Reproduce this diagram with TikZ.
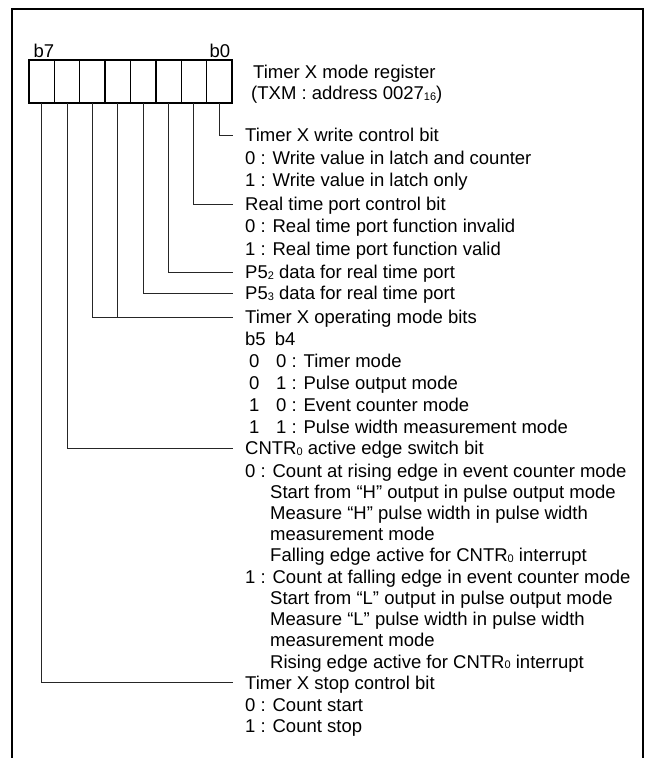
\documentclass[tikz,border=0pt]{standalone}
\usepackage{fontspec}
\setmainfont{Liberation Sans}
\newcommand\lowsub[1]{\raisebox{-0.6pt}{\fontsize{11}{11}\selectfont #1}}
\begin{document}
\begin{tikzpicture}[x=1pt,y=-1pt,
  txt/.style={anchor=base west,inner sep=0pt,font=\fontsize{18.5}{22}\selectfont},
  bitlbl/.style={anchor=base,inner sep=0pt,font=\fontsize{18.5}{22}\selectfont},
  cell/.style={draw,line width=1.3pt,minimum width=25.375pt,minimum height=43pt,inner sep=0pt,outer sep=0pt},
  conn/.style={line width=1pt,black!85},
  frameline/.style={line width=2.2pt}]
\useasboundingbox (0,0) rectangle (647,758);
% outer frame (open at bottom)
\draw[frameline] (12,758) -- (12,9) -- (643,9) -- (643,758);
% register cells
\foreach \i in {0,...,7}
  \node[cell] (c\i) at ({232-12.6875-25.375*\i},81.5) {};
\draw[line width=2.2pt] (c7.north west) rectangle (c0.south east);
\node[bitlbl] (lb7) at (44,57) {b7};
\node[bitlbl] (lb0) at (220,57) {b0};
\node[txt] (title1) at (253,78.5) {Timer X mode register};
\node[txt] (title2) at (251,99.5) {(TXM : address 0027\lowsub{16})};
% texts
\node[txt] (t0) at (245,141.5) {Timer X write control bit};
\node[txt] (t0a) at (245,164) {0 : Write value in latch and counter};
\node[txt] (t0b) at (245,186.5) {1 : Write value in latch only};
\node[txt] (t1) at (245,210.5) {Real time port control bit};
\node[txt] (t1a) at (245,232.5) {0 : Real time port function invalid};
\node[txt] (t1b) at (245,255.5) {1 : Real time port function valid};
\node[txt] (t2) at (245,278.5) {P5\lowsub{2} data for real time port};
\node[txt] (t3) at (245,299.5) {P5\lowsub{3} data for real time port};
\node[txt] (t45) at (245,323.5) {Timer X operating mode bits};
\node[txt] (t45h) at (245,345.5) {b5\hspace{9pt}b4};
\node[txt] (t45a1) at (249,367.5) {0};
\node[txt] (t45a) at (276,367.5) {0 : Timer mode};
\node[txt] (t45b1) at (249,389.5) {0};
\node[txt] (t45b) at (276,389.5) {1 : Pulse output mode};
\node[txt] (t45c1) at (249,411.5) {1};
\node[txt] (t45c) at (276,411.5) {0 : Event counter mode};
\node[txt] (t45d1) at (249,433.5) {1};
\node[txt] (t45d) at (276,433.5) {1 : Pulse width measurement mode};
\node[txt] (t6) at (245,454.5) {CNTR\lowsub{0} active edge switch bit};
\node[txt] (t6a) at (245,477) {0 : Count at rising edge in event counter mode};
\node[txt] (t6b) at (270,498) {Start from “H” output in pulse output mode};
\node[txt] (t6c) at (270,519) {Measure “H” pulse width in pulse width};
\node[txt] (t6d) at (270,540.5) {measurement mode};
\node[txt] (t6e) at (270,561.5) {Falling edge active for CNTR\lowsub{0} interrupt};
\node[txt] (t6f) at (245,583) {1 : Count at falling edge in event counter mode};
\node[txt] (t6g) at (270,604) {Start from “L” output in pulse output mode};
\node[txt] (t6h) at (270,625.5) {Measure “L” pulse width in pulse width};
\node[txt] (t6i) at (270,646.5) {measurement mode};
\node[txt] (t6j) at (270,668) {Rising edge active for CNTR\lowsub{0} interrupt};
\node[txt] (t7) at (245,689) {Timer X stop control bit};
\node[txt] (t7a) at (245,711) {0 : Count start};
\node[txt] (t7b) at (245,732.5) {1 : Count stop};
% connector ends
\coordinate (j0) at ([shift={(-12pt,6.5pt)}]t0.base west);
\coordinate (j1) at ([shift={(-12pt,6.5pt)}]t1.base west);
\coordinate (j2) at ([shift={(-12pt,6.5pt)}]t2.base west);
\coordinate (j3) at ([shift={(-12pt,6.5pt)}]t3.base west);
\coordinate (j45) at ([shift={(-12pt,6.5pt)}]t45.base west);
\coordinate (j6) at ([shift={(-12pt,6.5pt)}]t6.base west);
\coordinate (j7) at ([shift={(-12pt,6.5pt)}]t7.base west);
% connectors
\draw[conn] (c0.south) |- (j0);
\draw[conn] (c1.south) |- (j1);
\draw[conn] (c2.south) |- (j2);
\draw[conn] (c3.south) |- (j3);
\draw[conn] (c5.south) |- (j45);
\draw[conn] (c4.south) -- (c4.south |- j45);
\draw[conn] (c6.south) |- (j6);
\draw[conn] (c7.south) |- (j7);
\end{tikzpicture}
\end{document}
